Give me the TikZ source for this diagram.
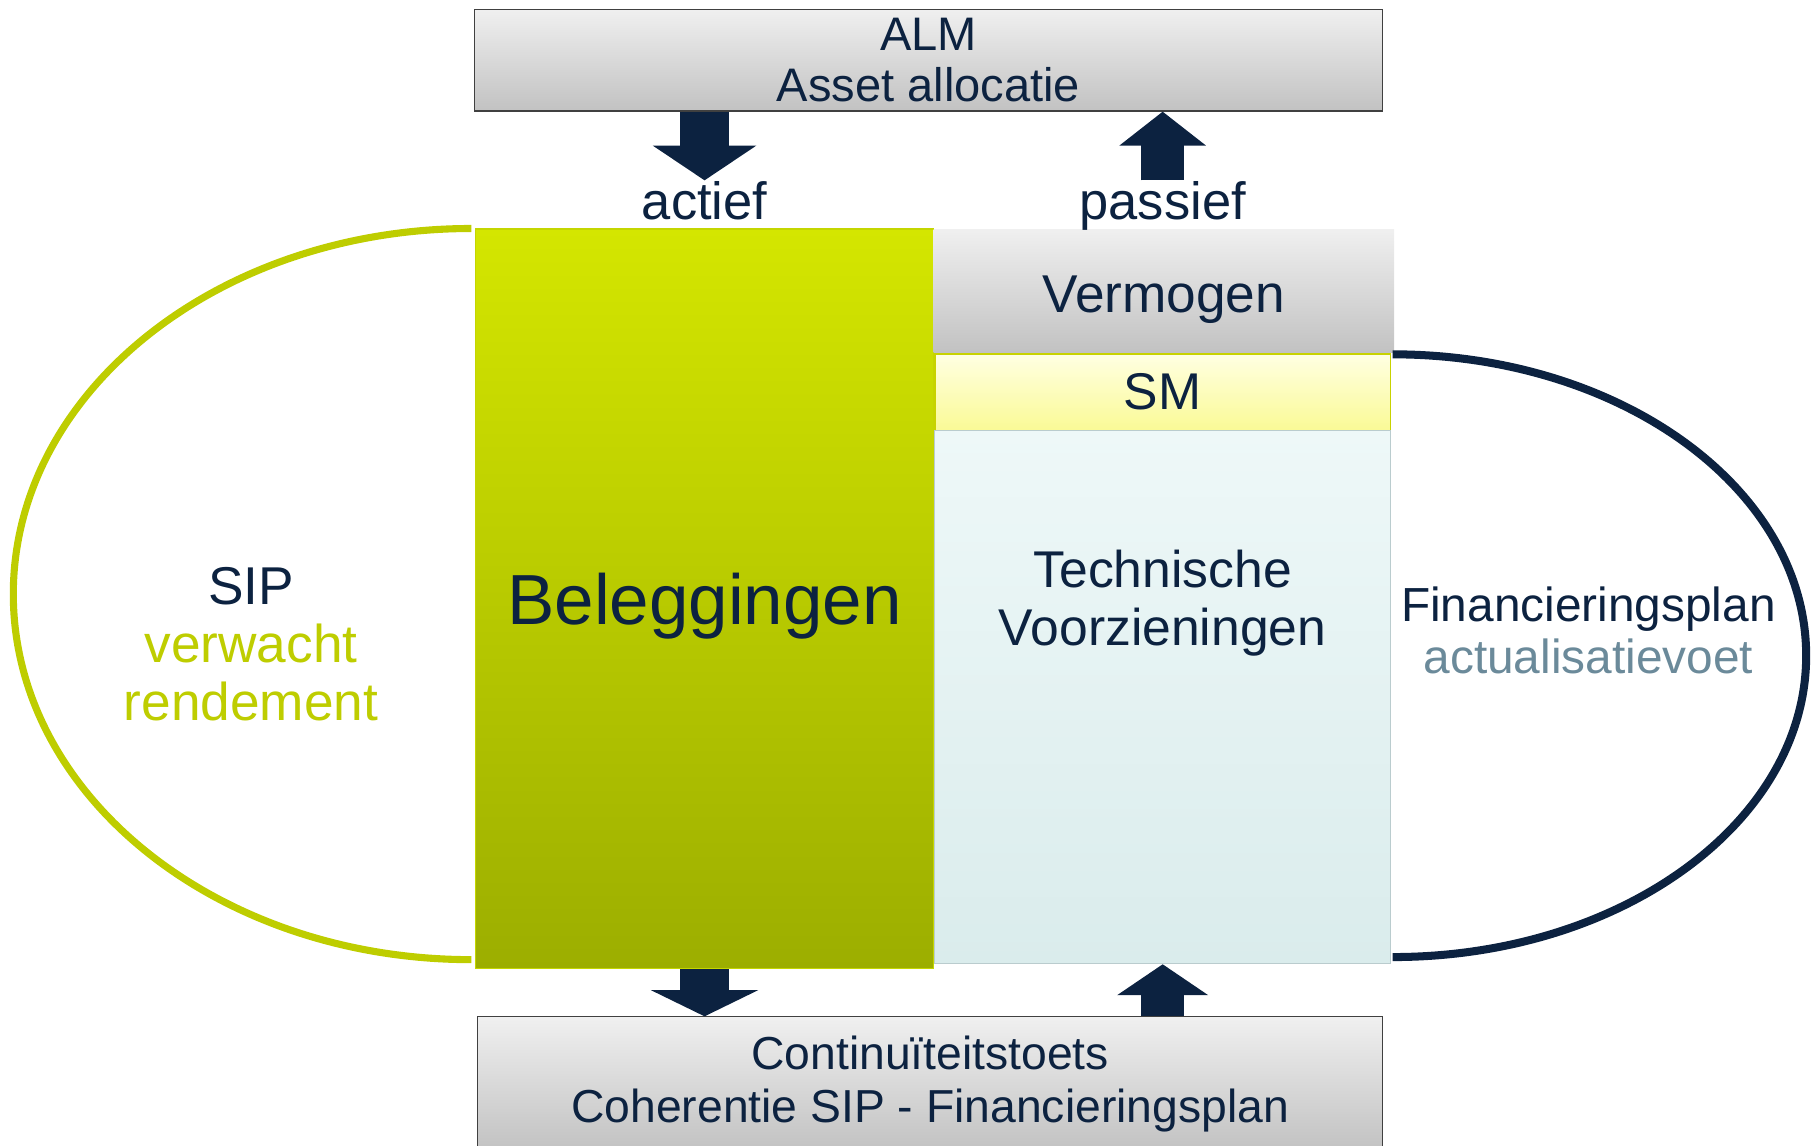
\documentclass[tikz,border=0pt]{standalone}
\usepackage{fontspec}
\setmainfont{Liberation Sans}
\usetikzlibrary{arrows.meta,calc}

\definecolor{navy}{RGB}{12,34,64}
\definecolor{sipgreen}{RGB}{190,205,0}
\definecolor{fpgray}{RGB}{107,138,154}

\tikzset{
  greybox/.style={rectangle, inner sep=0pt, top color=black!6, bottom color=black!24, text=navy, align=center},
  belegbox/.style={rectangle, inner sep=0pt, draw={rgb,255:red,196;green,214;blue,0}, line width=0.75pt,
    top color={rgb,255:red,212;green,230;blue,0}, bottom color={rgb,255:red,156;green,174;blue,0}, text=navy},
  smbox/.style={rectangle, inner sep=0pt, draw={rgb,255:red,200;green,210;blue,0}, line width=1.1pt,
    top color={rgb,255:red,255;green,255;blue,226}, bottom color={rgb,255:red,250;green,250;blue,150}, text=navy},
  tvbox/.style={rectangle, inner sep=0pt, draw={rgb,255:red,186;green,204;blue,206}, line width=0.75pt,
    top color={rgb,255:red,238;green,248;blue,248}, bottom color={rgb,255:red,218;green,236;blue,236}},
  label text/.style={text=navy, align=center, inner sep=0.75pt},
  bigarrow/.style={navy, line width=31.5pt, -{Triangle[width=66pt,length=22.5pt]}},
  smallarrow/.style={navy, line width=28pt, -{Triangle[width=55pt,length=22pt]}},
}

\begin{document}
\begin{tikzpicture}[x=0.75pt,y=0.75pt,yscale=-1,xscale=1]
\useasboundingbox (0,0) rectangle (1568,990);

% balance sheet
\node [belegbox, minimum width=297pt, minimum height=479.25pt, text height=43pt, text depth=9.7pt, font=\fontsize{46}{50}\selectfont] (beleg) at (609,517.5) {Beleggingen};
\node [greybox, minimum width=298.5pt, minimum height=80.25pt, text height=35.2pt, text depth=7.2pt, font=\fontsize{34.5}{37}\selectfont] (verm) at (1006,251.5) {Vermogen};
\node [smbox, minimum width=295.5pt, minimum height=49.5pt, font=\fontsize{33.5}{37}\selectfont] (sm) at (1005,339) {SM};
\node [tvbox, minimum width=295.5pt, minimum height=345.75pt] (tv) at (1005,602.5) {};
\node [label text, font=\fontsize{33.5}{37.5}\selectfont] (tvtext) at (1005,521.5) {Technische\\Voorzieningen};

% loops
\draw [sipgreen, line width=4.6pt] ($(beleg.north west)+(-3,0)$) arc [start angle=270, end angle=90, x radius=396, y radius=316];
\draw [navy, line width=5.2pt] ($(sm.north east)+(1,1)$) arc [start angle=-90, end angle=90, x radius=357.5, y radius=260.5];

% ALM and continuity test
\node [greybox, draw={rgb,255:red,64;green,64;blue,64}, line width=0.75pt, minimum width=588.75pt, minimum height=66pt, font=\fontsize{30.5}{33}\selectfont] (alm) at (802.5,52) {ALM\\Asset allocatie};
\node [greybox, draw={rgb,255:red,64;green,64;blue,64}, line width=0.75pt, minimum width=586.5pt, minimum height=87pt, font=\fontsize{30}{34}\selectfont] (ct) at (804,937) {Continuïteitstoets\\Coherentie SIP - Financieringsplan};

% side texts
\node [label text, anchor=base, font=\fontsize{34}{38}\selectfont] (actief) at (609,190) {actief};
\node [label text, anchor=base, font=\fontsize{34}{38}\selectfont] (passief) at (1005,190) {passief};
\node [label text, font=\fontsize{34.5}{37.5}\selectfont] (sip) at (217,557) {SIP\\{\color{sipgreen}verwacht}\\{\color{sipgreen}rendement}};
\node [label text, font=\fontsize{31}{34}\selectfont] (fp) at (1373,545) {Financieringsplan\\{\color{fpgray}actualisatievoet}};

% arrows
\draw [bigarrow] (alm.south -| actief.north) -- (actief.north);
\draw [smallarrow] (passief.north) -- (alm.south -| passief.north);
\draw [bigarrow, -{Triangle[width=69pt,length=17pt]}] (beleg.south) -- (ct.north -| beleg.south);
\draw [smallarrow, -{Triangle[width=58pt,length=20pt]}] (ct.north -| tv.south) -- (tv.south);

\end{tikzpicture}
\end{document}
